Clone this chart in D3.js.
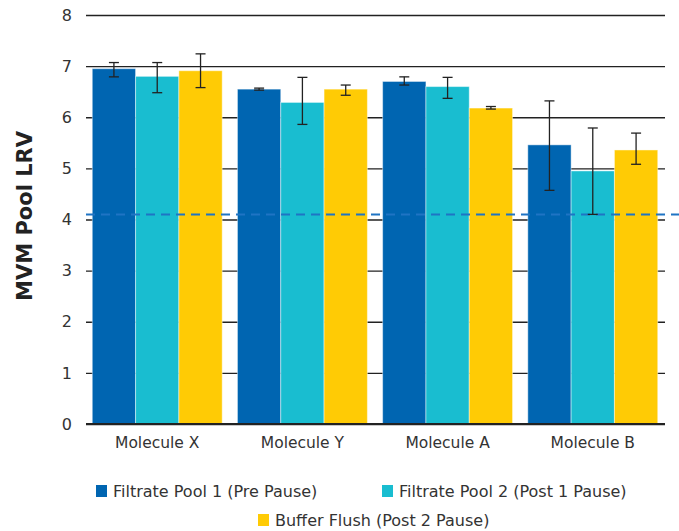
<!DOCTYPE html>
<html><head><meta charset="utf-8">
<script src="https://cdn.jsdelivr.net/npm/d3@7"></script>
<style>body{margin:0;background:#fff}svg{display:block}text{font-family:"DejaVu Sans",Verdana,sans-serif;fill:#333}</style>
</head><body>
<script>
const categories = ["Molecule X","Molecule Y","Molecule A","Molecule B"];
const seriesNames = ["Filtrate Pool 1 (Pre Pause)","Filtrate Pool 2 (Post 1 Pause)","Buffer Flush (Post 2 Pause)"];
const seriesColors = ["#0065b1","#19bdd0","#ffcb05"];
const pool1 = [6.95, 6.55, 6.70, 5.46];
const pool2 = [6.80, 6.29, 6.60, 4.95];
const flush = [6.91, 6.55, 6.18, 5.36];
const pool1Err = [[6.79,7.07],[6.53,6.57],[6.63,6.79],[4.57,6.32]];
const pool2Err = [[6.48,7.07],[5.86,6.78],[6.37,6.78],[4.10,5.79]];
const flushErr = [[6.58,7.24],[6.43,6.63],[6.16,6.21],[5.08,5.69]];
const yTicks = [0,1,2,3,4,5,6,7,8];
const threshold = 4.10;
const yLabel = "MVM Pool LRV";

const W = 679, H = 531;
const svg = d3.select("body").append("svg").attr("width", W).attr("height", H);
const y = d3.scaleLinear().domain([0,8]).range([424,15]);
const x = d3.scaleBand().domain(categories).range([85,665]).paddingInner(0.105).paddingOuter(0.05);
const xs = d3.scaleBand().domain(d3.range(3)).range([0, x.bandwidth()]).padding(0);

const gAxis = svg.append("g").attr("transform","translate(86,0)")
  .call(d3.axisLeft(y).tickValues(yTicks).tickSize(-579).tickPadding(14).tickFormat(d3.format("d")));
gAxis.select(".domain").remove();
gAxis.selectAll(".tick line").attr("stroke","#222").attr("stroke-width",1.3);
gAxis.selectAll(".tick text").attr("font-size",16).style("fill","#333");

const values = [pool1, pool2, flush];
const errs = [pool1Err, pool2Err, flushErr];
const data = [];
categories.forEach((c,i)=>values.forEach((v,s)=>data.push({c, s, v:v[i], e:errs[s][i]})));

svg.append("g").selectAll("rect").data(data).join("rect")
  .attr("x", d=>x(d.c)+xs(d.s))
  .attr("y", d=>y(d.v))
  .attr("width", xs.bandwidth())
  .attr("height", d=>y(0)-y(d.v))
  .attr("fill", d=>seriesColors[d.s])
  .attr("stroke","rgba(255,255,255,0.45)").attr("stroke-width",1);

const xAxis = svg.append("g").attr("transform","translate(0,424)")
  .call(d3.axisBottom(x).tickSize(0).tickPadding(0));
xAxis.select(".domain").attr("stroke","#222").attr("stroke-width",2).attr("d","M86,0H665");
xAxis.selectAll(".tick text").attr("font-size",15.5).attr("dy",null).attr("y",24).style("fill","#333");

svg.append("line").attr("x1",86).attr("x2",679).attr("y1",y(threshold)).attr("y2",y(threshold))
  .attr("stroke","#1f74c4").attr("stroke-width",2).attr("stroke-dasharray","9,6");

const eb = svg.append("g").attr("stroke","#222").attr("stroke-width",1.3);
data.forEach(d=>{
  const cx = x(d.c)+xs(d.s)+xs.bandwidth()/2;
  eb.append("line").attr("x1",cx).attr("x2",cx).attr("y1",y(d.e[0])).attr("y2",y(d.e[1]));
  eb.append("line").attr("x1",cx-5).attr("x2",cx+5).attr("y1",y(d.e[0])).attr("y2",y(d.e[0]));
  eb.append("line").attr("x1",cx-5).attr("x2",cx+5).attr("y1",y(d.e[1])).attr("y2",y(d.e[1]));
});

svg.append("text").attr("transform","translate(32,216) rotate(-90)")
  .attr("text-anchor","middle").attr("font-size",21).attr("font-weight","bold")
  .style("fill","#222").text(yLabel);

const legendPos = [[96,491],[382,491],[258,520]];
const lg = svg.append("g");
seriesNames.forEach((n,i)=>{
  const [lx,ly] = legendPos[i];
  lg.append("rect").attr("x",lx).attr("y",ly-6).attr("width",11).attr("height",12).attr("fill",seriesColors[i]);
  lg.append("text").attr("x",lx+17).attr("y",ly).attr("dy","0.35em").attr("font-size",16).style("fill","#333").text(n);
});
</script>
</body></html>
